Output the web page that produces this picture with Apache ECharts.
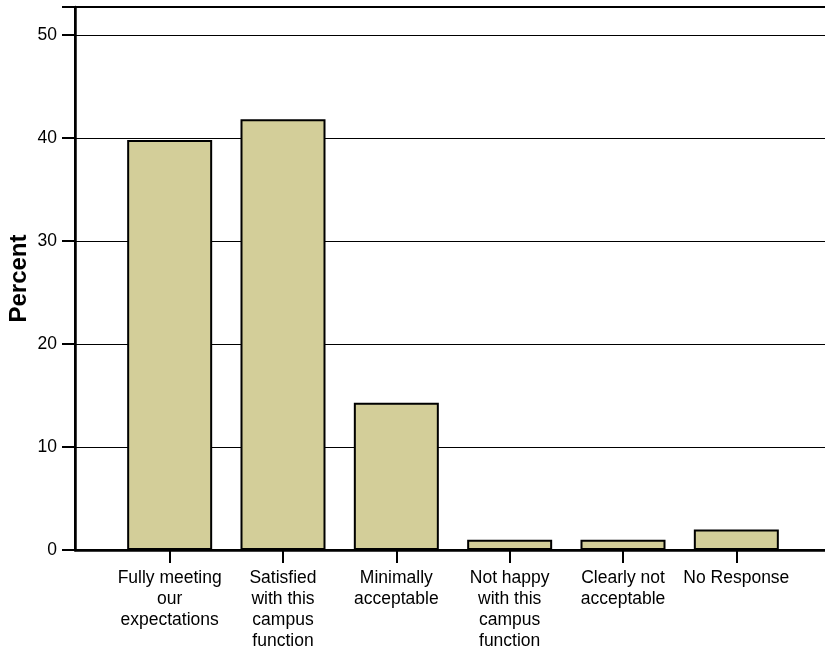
<!DOCTYPE html>
<html><head><meta charset="utf-8">
<script src="https://cdn.jsdelivr.net/npm/echarts@6/dist/echarts.min.js"></script>
<style>html,body{margin:0;padding:0;background:#fff}#c{width:825px;height:654px}</style>
</head><body><div id="c"></div>
<script>
const categories = [
  "Fully meeting\nour\nexpectations",
  "Satisfied\nwith this\ncampus\nfunction",
  "Minimally\nacceptable",
  "Not happy\nwith this\ncampus\nfunction",
  "Clearly not\nacceptable",
  "No Response"
];
const percentValues = [39.8, 41.8, 14.3, 1.0, 1.0, 2.0];
const yTicks = [0, 10, 20, 30, 40, 50];
const yMax = 52.7;

const font = 'Liberation Sans, Arial, sans-serif';
const chart = echarts.init(document.getElementById('c'));
chart.setOption({
  animation: false,
  grid: [
    {left: 75, right: -20, top: 7, bottom: 104, show: true, borderColor: '#000', borderWidth: 2, z: 0,
     outerBoundsMode: 'none', containLabel: false},
    {left: 113, right: 32, top: 7, bottom: 104, outerBoundsMode: 'none', containLabel: false}
  ],
  xAxis: [
    {type: 'value', gridIndex: 0, min: 0, max: 1, show: true,
     axisLine: {show: true, onZero: false, lineStyle: {color: '#000', width: 2.5}},
     axisTick: {show: false}, axisLabel: {show: false}, splitLine: {show: false}},
    {type: 'category', gridIndex: 1, data: categories,
     axisLine: {show: false},
     axisTick: {show: true, alignWithLabel: true, length: 13, lineStyle: {color: '#000', width: 2}},
     axisLabel: {color: '#000', fontFamily: font, fontSize: 17.5, lineHeight: 21, margin: 18, interval: 0, align: 'center'}}
  ],
  yAxis: [
    {type: 'value', gridIndex: 0, min: 0, max: yMax, interval: 10,
     name: 'Percent', nameLocation: 'middle', nameGap: 44, nameRotate: 90,
     nameMoveOverlap: false,
     nameTextStyle: {color: '#000', fontFamily: font, fontSize: 24, fontWeight: 'bold'},
     axisLine: {show: true, lineStyle: {color: '#000', width: 2.5}},
     axisTick: {show: true, length: 13, lineStyle: {color: '#000', width: 2}},
     axisLabel: {color: '#000', fontFamily: font, fontSize: 17.5, margin: 18,
       formatter: v => yTicks.includes(v) ? String(v) : ''},
     splitLine: {show: true, lineStyle: {color: '#000', width: 1.2}}},
    {type: 'value', gridIndex: 1, min: 0, max: yMax, show: false, splitLine: {show: false}}
  ],
  series: [{
    type: 'bar', xAxisIndex: 1, yAxisIndex: 1, data: percentValues,
    barWidth: 85,
    itemStyle: {color: '#d3ce99', borderColor: '#000', borderWidth: 2},
    z: 3
  }]
});
</script></body></html>
